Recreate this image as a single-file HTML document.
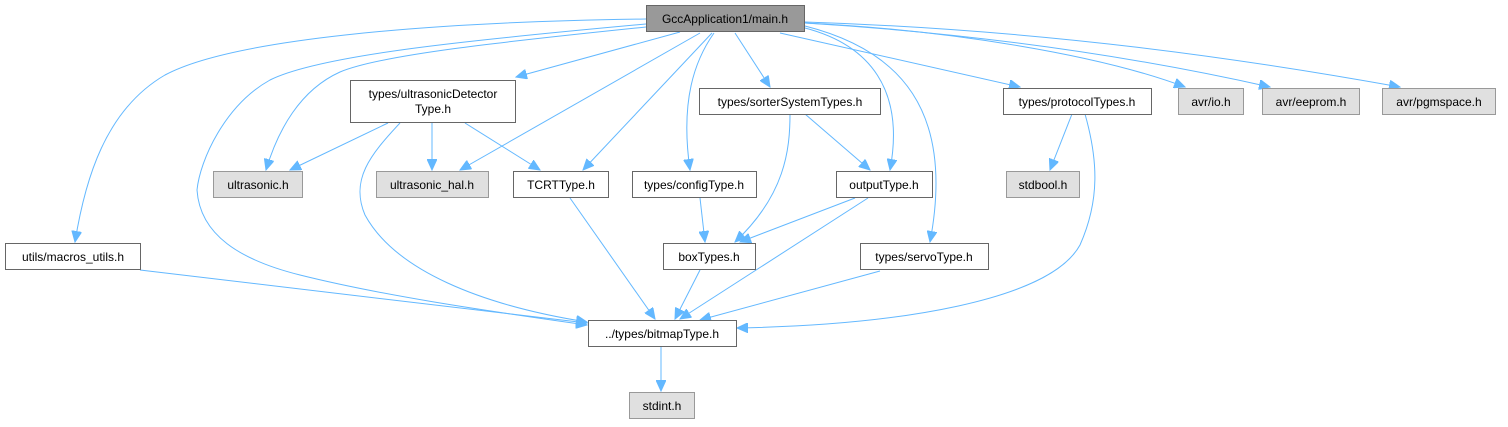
<!DOCTYPE html>
<html><head><meta charset="utf-8"><style>
html,body{margin:0;padding:0;background:#fff;width:1508px;height:427px;overflow:hidden}
svg{display:block}
text{font-family:"Liberation Sans",sans-serif;font-size:12px;fill:#000}
</style></head><body>
<svg width="1508" height="427" viewBox="0 0 1508 427" xmlns="http://www.w3.org/2000/svg">
<defs>
<marker id="a" markerUnits="userSpaceOnUse" markerWidth="12" markerHeight="10" refX="11" refY="5" orient="auto">
<path d="M0,0 L11,5 L0,10 Z" fill="#63b8ff" stroke="#63b8ff"/>
</marker>
</defs>
<g fill="none" stroke="#63b8ff" stroke-width="1" marker-end="url(#a)">
<path d="M646,19 C420,22 230,40 165,75 C105,110 85,180 75,242"/>
<path d="M646,24 C470,40 320,55 270,80 C225,105 200,160 197,190 C200,235 240,260 300,275 C380,295 480,310 587,325"/>
<path d="M646,27 C500,42 380,55 340,72 C300,90 278,130 266,170"/>
<path d="M680,32 L516,77"/>
<path d="M700,33 L460,170"/>
<path d="M712,33 L583,170"/>
<path d="M714,33 C695,60 680,100 690,170"/>
<path d="M735,33 L770,87"/>
<path d="M805,28 C870,45 905,90 890,170"/>
<path d="M805,26 C900,50 955,110 930,242"/>
<path d="M780,33 L1020,87"/>
<path d="M805,23 C950,30 1100,55 1185,87"/>
<path d="M805,23 C1000,35 1150,60 1270,87"/>
<path d="M805,22 C1050,30 1250,60 1400,87"/>
<path d="M388,123 L290,170"/>
<path d="M432,123 L432,170"/>
<path d="M465,123 L540,170"/>
<path d="M400,123 C370,155 350,180 365,215 C395,270 480,305 587,322"/>
<path d="M570,198 L655,319"/>
<path d="M700,198 L705,242"/>
<path d="M790,114 C790,150 785,195 735,242"/>
<path d="M805,114 L870,170"/>
<path d="M855,198 L740,242"/>
<path d="M868,198 L680,319"/>
<path d="M880,271 L700,320"/>
<path d="M1072,114 L1050,170"/>
<path d="M1085,114 C1098,160 1100,200 1080,245 C1050,300 900,325 737,328"/>
<path d="M700,270 L675,319"/>
<path d="M140,270 L587,323"/>
<path d="M661,346 L661,391"/>
</g>
<g stroke-width="1">
<rect x="646.5" y="5.5" width="158" height="26" fill="#999999" stroke="#666666"/>
<rect x="350.5" y="80.5" width="165" height="42" fill="#fff" stroke="#666"/>
<rect x="213.5" y="171.5" width="89" height="26" fill="#e0e0e0" stroke="#999"/>
<rect x="376.5" y="171.5" width="112" height="26" fill="#e0e0e0" stroke="#999"/>
<rect x="513.5" y="171.5" width="95" height="26" fill="#fff" stroke="#666"/>
<rect x="632.5" y="171.5" width="124" height="26" fill="#fff" stroke="#666"/>
<rect x="699.5" y="88.5" width="181" height="26" fill="#fff" stroke="#666"/>
<rect x="836.5" y="171.5" width="96" height="26" fill="#fff" stroke="#666"/>
<rect x="1003.5" y="88.5" width="148" height="26" fill="#fff" stroke="#666"/>
<rect x="1178.5" y="88.5" width="65" height="26" fill="#e0e0e0" stroke="#999"/>
<rect x="1262.5" y="88.5" width="97" height="26" fill="#e0e0e0" stroke="#999"/>
<rect x="1382.5" y="88.5" width="113" height="26" fill="#e0e0e0" stroke="#999"/>
<rect x="1006.5" y="171.5" width="73" height="26" fill="#e0e0e0" stroke="#999"/>
<rect x="5.5" y="243.5" width="135" height="26" fill="#fff" stroke="#666"/>
<rect x="663.5" y="243.5" width="92" height="26" fill="#fff" stroke="#666"/>
<rect x="860.5" y="243.5" width="128" height="26" fill="#fff" stroke="#666"/>
<rect x="588.5" y="320.5" width="148" height="26" fill="#fff" stroke="#666"/>
<rect x="629.5" y="392.5" width="65" height="26" fill="#e0e0e0" stroke="#999"/>
</g>
<g text-anchor="middle">
<text x="725" y="23">GccApplication1/main.h</text>
<text x="433" y="98">types/ultrasonicDetector</text>
<text x="433" y="113">Type.h</text>
<text x="258" y="189">ultrasonic.h</text>
<text x="432" y="189">ultrasonic_hal.h</text>
<text x="561" y="189">TCRTType.h</text>
<text x="694" y="189">types/configType.h</text>
<text x="790" y="106">types/sorterSystemTypes.h</text>
<text x="884" y="189">outputType.h</text>
<text x="1077" y="106">types/protocolTypes.h</text>
<text x="1211" y="106">avr/io.h</text>
<text x="1311" y="106">avr/eeprom.h</text>
<text x="1439" y="106">avr/pgmspace.h</text>
<text x="1043" y="189">stdbool.h</text>
<text x="73" y="261">utils/macros_utils.h</text>
<text x="709" y="261">boxTypes.h</text>
<text x="924" y="261">types/servoType.h</text>
<text x="662" y="338">../types/bitmapType.h</text>
<text x="662" y="410">stdint.h</text>
</g>
</svg>
</body></html>
